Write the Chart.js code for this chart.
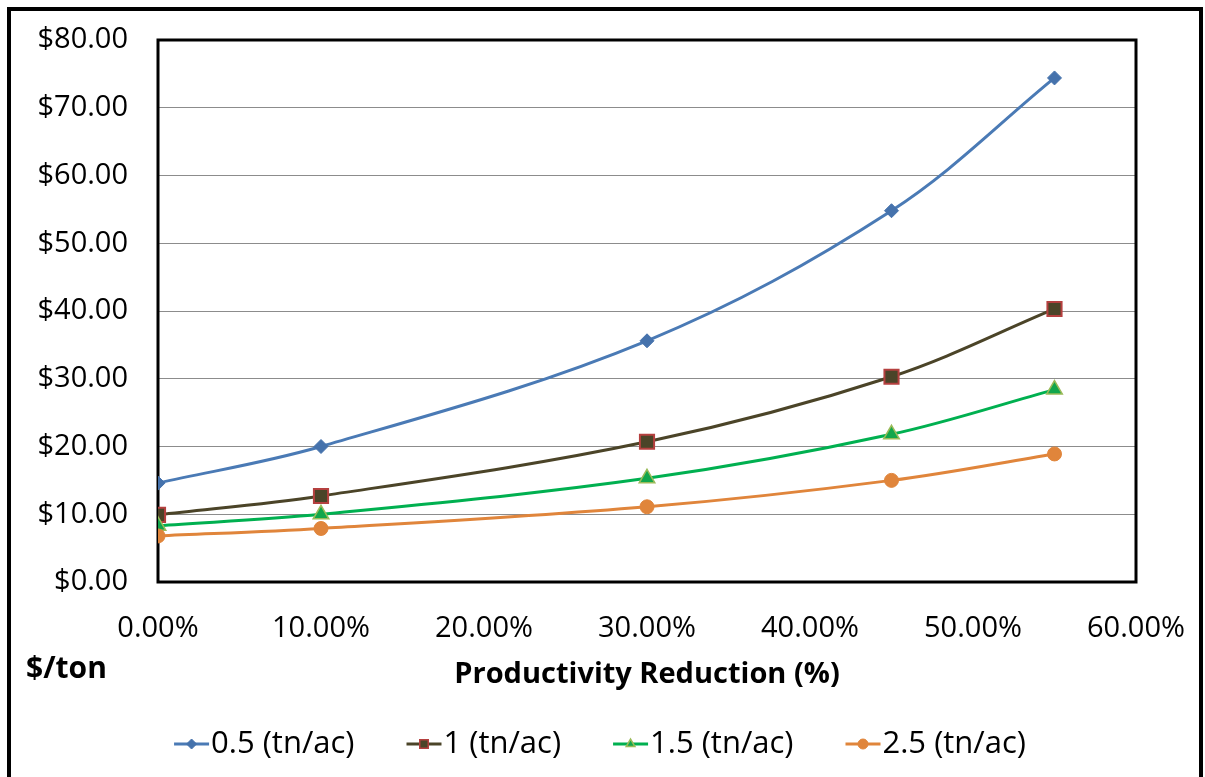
<!DOCTYPE html>
<html><head><meta charset="utf-8">
<script src="https://cdn.jsdelivr.net/npm/chart.js@4.4.1/dist/chart.umd.min.js"></script>
<style>html,body{margin:0;padding:0;background:#fff;} canvas{display:block;}</style>
</head><body>
<canvas id="c" width="1205" height="777"></canvas>
<script>
// ---- data ----
const xValues = [0, 0.10, 0.30, 0.45, 0.55];
const seriesLabels = ['0.5 (tn/ac)', '1 (tn/ac)', '1.5 (tn/ac)', '2.5 (tn/ac)'];
const s05 = [14.6, 20.0, 35.6, 54.8, 74.4];
const s1  = [9.9, 12.7, 20.7, 30.3, 40.3];
const s15 = [8.3, 10.0, 15.3, 21.8, 28.4];
const s25 = [6.8, 7.9, 11.1, 15.0, 18.9];
const xTickMin = 0, xTickMax = 0.6, xTickStep = 0.1;
const yTickMin = 0, yTickMax = 80, yTickStep = 10;
const xTitle = 'Productivity Reduction (%)';
const yTitle = '$/ton';

const FONT = "'Open Sans', 'Noto Sans', sans-serif";

function pts(arr){ return xValues.map((x,i)=>({x:x, y:arr[i]})); }

const styles = [
  {line:'#4A7AB5', fill:'#4572AC', border:'#4572AC', style:'rectRot', r:7, bw:1},
  {line:'#4B4428', fill:'#4B4428', border:'#B5403F', style:'rect', r:10, bw:2},
  {line:'#00B050', fill:'#12A64C', border:'#9BBB59', style:'triangle', r:9, bw:1.5},
  {line:'#E0853B', fill:'#E0853B', border:'#E0853B', style:'circle', r:7, bw:1}
];
const seriesData = [s05, s1, s15, s25];

const datasets = seriesData.map((arr,i)=>({
  label: seriesLabels[i],
  data: pts(arr),
  borderColor: styles[i].line,
  backgroundColor: styles[i].fill,
  borderWidth: 3,
  tension: 0.35,
  pointStyle: styles[i].style,
  pointRadius: styles[i].r,
  pointBackgroundColor: styles[i].fill,
  pointBorderColor: styles[i].border,
  pointBorderWidth: styles[i].bw,
  order: 4 - i
}));

const framePlugin = {
  id: 'frame',
  beforeDatasetsDraw(chart){
    const {ctx, chartArea:a} = chart;
    ctx.save();
    ctx.strokeStyle = '#000';
    ctx.lineWidth = 3;
    ctx.strokeRect(a.left, a.top, a.right - a.left, a.bottom - a.top);
    ctx.restore();
  },
  afterDraw(chart){
    const ctx = chart.ctx;
    ctx.save();
    // outer border
    ctx.strokeStyle = '#000';
    ctx.lineWidth = 4;
    ctx.strokeRect(9, 9, 1192, 800);
    // y unit label
    ctx.fillStyle = '#000';
    ctx.font = "bold 30px " + FONT;
    ctx.textAlign = 'left';
    ctx.textBaseline = 'middle';
    ctx.fillText(yTitle, 26, 669);
    // legend
    ctx.font = "31px " + FONT;
    const lineLen = 35, gapAfterLine = 2, itemGap = 52;
    const widths = chart.data.datasets.map(d => lineLen + gapAfterLine + ctx.measureText(d.label).width);
    const total = widths.reduce((a,b)=>a+b,0) + itemGap*(widths.length-1);
    let x = 600 - total/2;
    const y = 744;
    chart.data.datasets.forEach((d,i)=>{
      ctx.strokeStyle = d.borderColor;
      ctx.lineWidth = 3;
      ctx.beginPath(); ctx.moveTo(x, y); ctx.lineTo(x+lineLen, y); ctx.stroke();
      const opts = {pointStyle: d.pointStyle, rotation: 0, borderWidth: d.pointBorderWidth, radius: d.pointStyle === 'rect' ? 6 : 5};
      ctx.fillStyle = d.pointBackgroundColor;
      ctx.strokeStyle = d.pointBorderColor;
      ctx.lineWidth = Math.min(d.pointBorderWidth, 1.5);
      if (Chart.helpers && Chart.helpers.drawPoint) {
        Chart.helpers.drawPoint(ctx, opts, x + lineLen/2, y);
      }
      ctx.fillStyle = '#000';
      ctx.textAlign = 'left';
      ctx.textBaseline = 'middle';
      ctx.fillText(d.label, x + lineLen + gapAfterLine, y);
      x += widths[i] + itemGap;
    });
    ctx.restore();
  }
};

new Chart(document.getElementById('c'), {
  type: 'line',
  data: { datasets },
  options: {
    responsive: false,
    devicePixelRatio: 1,
    animation: false,
    layout: { padding: { left: 0, top: 40, right: 69, bottom: 0 } },
    plugins: { legend: { display: false }, tooltip: { enabled: false } },
    scales: {
      x: {
        type: 'linear',
        min: xTickMin, max: xTickMax,
        afterFit(s){ s.height = 195; s.paddingLeft = 0; s.paddingRight = 0; s.paddingTop = 0; s.paddingBottom = 0; },
        grid: { display: false, drawTicks: false },
        border: { display: false },
        ticks: {
          stepSize: xTickStep,
          padding: 29,
          color: '#000',
          font: { family: FONT, size: 29 },
          maxRotation: 0,
          callback: v => (v*100).toFixed(2) + '%'
        },
        title: {
          display: true,
          text: xTitle,
          color: '#000',
          font: { family: FONT, size: 29, weight: 'bold' },
          padding: { top: 0, bottom: 85 }
        }
      },
      y: {
        min: yTickMin, max: yTickMax,
        afterFit(s){ s.width = 158; s.paddingLeft = 0; s.paddingRight = 0; s.paddingTop = 0; s.paddingBottom = 0; },
        grid: { color: '#8C8C8C', lineWidth: 1, drawTicks: false },
        border: { display: false },
        ticks: {
          stepSize: yTickStep,
          padding: 30,
          color: '#000',
          font: { family: FONT, size: 29 },
          callback: v => '$' + v.toFixed(2)
        }
      }
    }
  },
  plugins: [framePlugin]
});
</script>
</body></html>
